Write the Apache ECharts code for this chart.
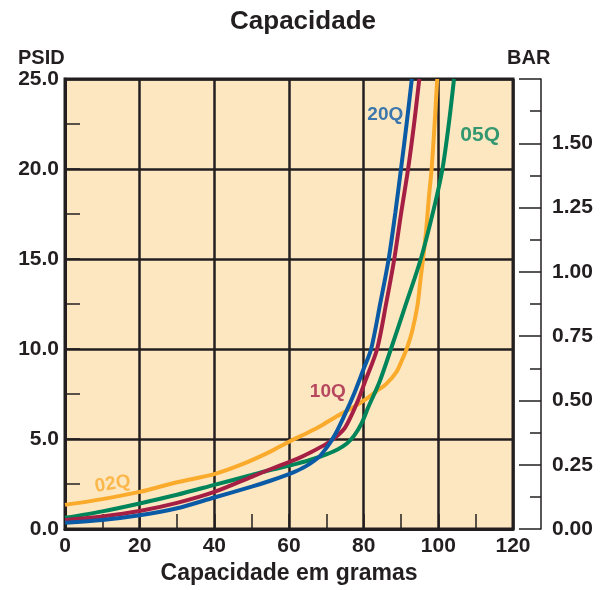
<!DOCTYPE html>
<html>
<head>
<meta charset="utf-8">
<script src="https://cdn.jsdelivr.net/npm/echarts@6/dist/echarts.min.js"></script>
<style>
html,body{margin:0;padding:0;background:#fff;}
#c{width:606px;height:590px;}
</style>
</head>
<body>
<div id="c"></div>
<script>
// ---- data (capacity in grams vs pressure drop in PSID) ----
const xTicks = [0, 20, 40, 60, 80, 100, 120];
const psiTicks = ['0.0', '5.0', '10.0', '15.0', '20.0', '25.0'];
const barTicks = ['0.00', '0.25', '0.50', '0.75', '1.00', '1.25', '1.50'];

const seriesNames = ['20Q', '10Q', '05Q', '02Q'];

const x20Q = [0, 10, 20, 30, 40, 50, 55, 60, 62, 65, 68, 70, 71.5, 73, 75.5, 77.6, 80, 82, 84.5, 86.7, 88.5, 90, 91.5, 92.9];
const y20Q = [0.35, 0.5, 0.76, 1.15, 1.75, 2.35, 2.68, 3.05, 3.22, 3.55, 4.0, 4.5, 4.95, 5.5, 6.6, 7.6, 8.9, 10, 12.6, 15, 17.6, 20, 22.5, 25];

const x10Q = [0, 10, 20, 30, 40, 50, 55, 60, 62, 66, 70, 72.2, 74.9, 76.7, 78.5, 80.3, 83.6, 86, 88.2, 90, 91.9, 93.5, 94.9];
const y10Q = [0.5, 0.7, 1.0, 1.45, 2.06, 2.9, 3.32, 3.72, 3.88, 4.28, 4.73, 5.05, 5.6, 6.3, 7.15, 8.15, 10, 12.5, 15, 17.5, 20, 22.5, 25];

const x05Q = [0, 10, 20, 30, 40, 50, 55, 60, 62, 66, 70, 73, 75.5, 77.5, 79.5, 81.2, 84.2, 87.3, 91, 95.3, 98.8, 101.1, 102.8, 104.2];
const y05Q = [0.62, 0.98, 1.42, 1.9, 2.45, 3.0, 3.28, 3.52, 3.62, 3.86, 4.15, 4.42, 4.75, 5.2, 5.9, 6.75, 8.15, 10, 12.3, 15, 17.8, 20, 22.5, 25];

const x02Q = [0, 10, 20, 30, 40, 47.5, 55, 60, 65, 68.7, 72.7, 76.7, 81.2, 83.4, 86, 88.7, 90.3, 91.5, 93, 94.4, 95.3, 95.9, 96.7, 97.5, 98.2, 99, 99.7];
const y02Q = [1.34, 1.66, 2.06, 2.6, 3.05, 3.6, 4.3, 4.85, 5.35, 5.75, 6.25, 6.7, 7.3, 7.65, 8.05, 8.7, 9.4, 10, 11, 12.4, 14, 15, 16.5, 18.5, 20, 22.5, 25];

// label anchor points (in data units)
const labelX = [85.8, 70.4, 111.2, 12.8];
const labelY = [23.0, 7.6, 21.9, 2.5];

const colors = ['#0a5aa6', '#a51f45', '#00855b', '#fbab2c'];
const dark = '#231f20';
const FONT = '"Liberation Sans", Arial, Helvetica, sans-serif';

function zip(xs, ys) { return xs.map((x, i) => [x, ys[i]]); }
const lineData = [zip(x20Q, y20Q), zip(x10Q, y10Q), zip(x05Q, y05Q), zip(x02Q, y02Q)];

const chart = echarts.init(document.getElementById('c'), null, {renderer: 'canvas'});

const series = [];
const order = [3, 2, 1, 0];
order.forEach(i => {
  series.push({
    type: 'line',
    name: seriesNames[i],
    data: lineData[i],
    xAxisIndex: 0, yAxisIndex: 0,
    showSymbol: false,
    smooth: 0.3,
    clip: true,
    lineStyle: {color: colors[i], width: 4},
    z: 5
  });
});
seriesNames.forEach((n, i) => {
  series.push({
    type: 'scatter',
    data: [[labelX[i], labelY[i]]],
    xAxisIndex: 0, yAxisIndex: 0,
    symbolSize: 1,
    itemStyle: {color: 'rgba(0,0,0,0)'},
    silent: true,
    z: 6,
    label: {
      show: true,
      position: 'inside',
      formatter: n,
      color: colors[i],
      fontFamily: FONT,
      fontWeight: 'bold',
      fontSize: i === 2 ? 21 : 19,
      rotate: i === 3 ? 9 : 0
    }
  });
});

const option = {
  animation: false,
  backgroundColor: '#ffffff',
  title: [
    {text: 'Capacidade', left: 'center', top: 4,
     textStyle: {fontFamily: FONT, fontWeight: 'bold', fontSize: 26, color: dark}},
    {text: 'PSID', left: 13, top: 43,
     textStyle: {fontFamily: FONT, fontWeight: 'bold', fontSize: 20, color: dark}},
    {text: 'BAR', left: 502, top: 43,
     textStyle: {fontFamily: FONT, fontWeight: 'bold', fontSize: 20, color: dark}}
  ],
  grid: {
    left: 65, right: 93, top: 79, bottom: 61,
    show: true,
    backgroundColor: '#fde7c1',
    borderColor: dark,
    borderWidth: 3
  },
  xAxis: {
    type: 'value',
    min: xTicks[0], max: xTicks[xTicks.length - 1], interval: xTicks[1] - xTicks[0],
    name: 'Capacidade em gramas',
    nameLocation: 'middle',
    nameGap: 32,
    nameTextStyle: {fontFamily: FONT, fontWeight: 'bold', fontSize: 23, color: dark},
    axisLine: {show: true, lineStyle: {color: dark, width: 3}},
    axisTick: {show: true, inside: true, length: 15, lineStyle: {color: dark, width: 1.5}},
    minorTick: {show: true, splitNumber: 2, length: 15, lineStyle: {color: dark, width: 1.5}},
    axisLabel: {
      margin: 7, fontFamily: FONT, fontWeight: 'bold', fontSize: 21, color: dark,
      formatter: v => String(v)
    },
    splitLine: {show: true, lineStyle: {color: dark, width: 2.5}},
    minorSplitLine: {show: false}
  },
  yAxis: [
    {
      type: 'value',
      min: 0, max: 25, interval: 5,
      position: 'left',
      axisLine: {show: true, lineStyle: {color: dark, width: 3}},
      axisTick: {show: true, inside: true, length: 15, lineStyle: {color: dark, width: 1.5}},
      minorTick: {show: true, splitNumber: 2, length: 15, lineStyle: {color: dark, width: 1.5}},
      axisLabel: {
        margin: 6, fontFamily: FONT, fontWeight: 'bold', fontSize: 21, color: dark,
        formatter: v => psiTicks[Math.round(v / 5)]
      },
      splitLine: {show: true, lineStyle: {color: dark, width: 2.5}}
    },
    {
      type: 'value',
      min: 0, max: 1.75, interval: 0.25,
      position: 'right',
      offset: 28,
      axisLine: {show: true, lineStyle: {color: dark, width: 1.5}},
      axisTick: {show: true, inside: true, length: 22, lineStyle: {color: dark, width: 1.5}},
      minorTick: {show: true, splitNumber: 2, length: 11, lineStyle: {color: dark, width: 1.5}},
      axisLabel: {
        margin: 11, fontFamily: FONT, fontWeight: 'bold', fontSize: 21, color: dark,
        formatter: v => { const k = Math.round(v / 0.25); return k < barTicks.length ? barTicks[k] : ''; }
      },
      splitLine: {show: false}
    }
  ],
  series: series
};
chart.setOption(option);
</script>
</body>
</html>
